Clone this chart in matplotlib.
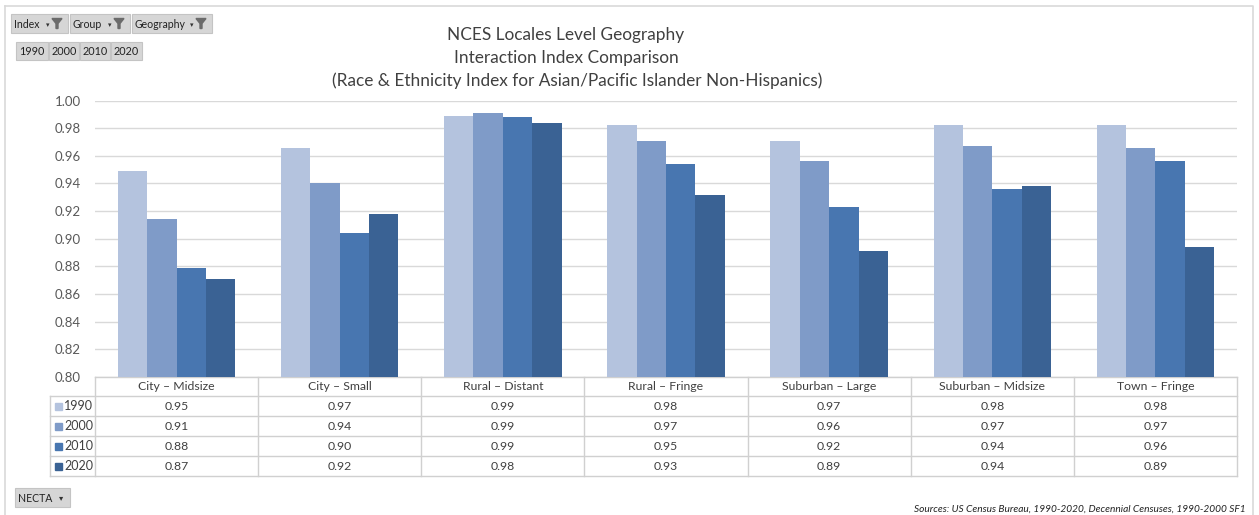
import matplotlib
matplotlib.use("Agg")
import matplotlib.pyplot as plt
from matplotlib.patches import Rectangle, Polygon
import numpy as np

plt.rcParams['font.family'] = ['Lato', 'DejaVu Sans']

categories = ["City \u2013 Midsize", "City \u2013 Small", "Rural \u2013 Distant", "Rural \u2013 Fringe",
              "Suburban \u2013 Large", "Suburban \u2013 Midsize", "Town \u2013 Fringe"]
years = ["1990", "2000", "2010", "2020"]
v1990 = [0.949, 0.966, 0.989, 0.982, 0.971, 0.982, 0.982]
v2000 = [0.914, 0.940, 0.991, 0.971, 0.956, 0.967, 0.966]
v2010 = [0.879, 0.904, 0.988, 0.954, 0.923, 0.936, 0.956]
v2020 = [0.871, 0.918, 0.984, 0.932, 0.891, 0.938, 0.894]
series = [v1990, v2000, v2010, v2020]
colors = ["#B4C3DE", "#7F9BC8", "#4876B0", "#3A6294"]
yticks = [0.80, 0.82, 0.84, 0.86, 0.88, 0.90, 0.92, 0.94, 0.96, 0.98, 1.00]

W, H = 1259, 515
fig = plt.figure(figsize=(W / 100, H / 100), dpi=100)

def fx(px):
    return px / W

def fy(py):
    return 1 - py / H

# overlay axes in pixel coordinates
ov = fig.add_axes([0, 0, 1, 1], zorder=0)
ov.set_xlim(0, W)
ov.set_ylim(H, 0)
ov.axis("off")

# outer frame
ov.plot([5, 1253, 1253], [6, 6, H + 5], color="#D9D9D9", lw=1.2)
ov.plot([5, 5], [6, H + 5], color="#D9D9D9", lw=1.2)

# plot area
L, R, T, B = 95, 1237, 100.5, 377
ax = fig.add_axes([fx(L), fy(B), fx(R) - fx(L), fy(T) - fy(B)], zorder=2)
ax.patch.set_alpha(0)
n = len(categories)
x = np.arange(n)
bw = 0.18
for i, (vals, c) in enumerate(zip(series, colors)):
    ax.bar(x + (i - 1.5) * bw, np.array(vals) - 0.80, bw, bottom=0.80, color=c, zorder=3)
ax.set_xlim(-0.5, n - 0.5)
ax.set_ylim(0.80, 1.00)
ax.set_yticks(yticks)
ax.set_yticklabels([f"{t:.2f}" for t in yticks], fontsize=9.5, color="#595959")
ax.yaxis.grid(True, color="#D9D9D9", lw=1)
ax.set_axisbelow(True)
ax.set_xticks([])
ax.tick_params(axis="y", length=0, pad=10)
for s in ax.spines.values():
    s.set_visible(False)

# titles
tkw = dict(ha="center", va="center", fontsize=12.4, color="#404040")
ov.text(566, 35, "NCES Locales Level Geography", **tkw)
ov.text(566, 58, "Interaction Index Comparison", **tkw)
ov.text(577, 81, "(Race & Ethnicity Index for Asian/Pacific Islander Non-Hispanics)", **tkw)

# data table
colw = (R - L) / n
tl = 50
rows_y = [377, 396, 416, 436, 456, 476]
lc = "#D0D0D0"
ov.plot([L, R], [rows_y[0], rows_y[0]], color=lc, lw=1)
for yy in rows_y[1:]:
    ov.plot([tl, R], [yy, yy], color=lc, lw=1)
ov.plot([tl, tl], [rows_y[1], rows_y[-1]], color=lc, lw=1)
for j in range(n + 1):
    xx = L + j * colw
    ov.plot([xx, xx], [rows_y[0], rows_y[-1]], color=lc, lw=1)
for j, cat in enumerate(categories):
    ov.text(L + (j + 0.5) * colw, (rows_y[0] + rows_y[1]) / 2, cat, ha="center", va="center",
            fontsize=8.8, color="#404040")
for i, (yr, vals, c) in enumerate(zip(years, series, colors)):
    yc = (rows_y[i + 1] + rows_y[i + 2]) / 2
    ov.add_patch(Rectangle((55, yc - 3.5), 7, 7, color=c))
    ov.text(64, yc, yr, ha="left", va="center", fontsize=9, color="#404040")
    for j, v in enumerate(vals):
        ov.text(L + (j + 0.5) * colw, yc, f"{v:.2f}", ha="center", va="center", fontsize=8.8, color="#404040")

# slicer buttons
def button(x0, x1, y0, y1, label, funnel=False, dropdown=False):
    ov.add_patch(Rectangle((x0, y0), x1 - x0, y1 - y0, facecolor="#D6D6D6", edgecolor="#C4C4C4", lw=0.8))
    ov.text(x0 + 3, (y0 + y1) / 2 + 0.5, label, ha="left", va="center", fontsize=7.6, color="#222222")
    cy = (y0 + y1) / 2
    if funnel:
        fxp = x1 - 11
        ov.add_patch(Polygon([[fxp - 5, cy - 5], [fxp + 5, cy - 5], [fxp + 1, cy], [fxp + 1, cy + 5],
                              [fxp - 1, cy + 5], [fxp - 1, cy]], closed=True, color="#6B6B6B"))
        ov.text(fxp - 9, cy + 1, "\u25be", ha="center", va="center", fontsize=5, color="#333333")
    if dropdown:
        ov.text(x1 - 9, cy, "\u25be", ha="center", va="center", fontsize=6, color="#333333")

button(11, 68, 14, 33, "Index", funnel=True)
button(70, 130, 14, 33, "Group", funnel=True)
button(132, 212, 14, 33, "Geography", funnel=True)
for k, (a, b) in enumerate([(16, 48), (49, 79), (80, 110), (111, 142)]):
    ov.add_patch(Rectangle((a, 42), b - a, 18, facecolor="#D6D6D6", edgecolor="#C4C4C4", lw=0.8))
    ov.text((a + b) / 2, 51.5, years[k], ha="center", va="center", fontsize=7.8, color="#222222")
button(15, 70, 488, 507, "NECTA", dropdown=True)

ov.text(1246, 509, "Sources: US Census Bureau, 1990-2020, Decennial Censuses, 1990-2000 SF1",
        ha="right", va="center", fontsize=7.3, style="italic", color="#222222")

fig.savefig("out.png", dpi=100)
